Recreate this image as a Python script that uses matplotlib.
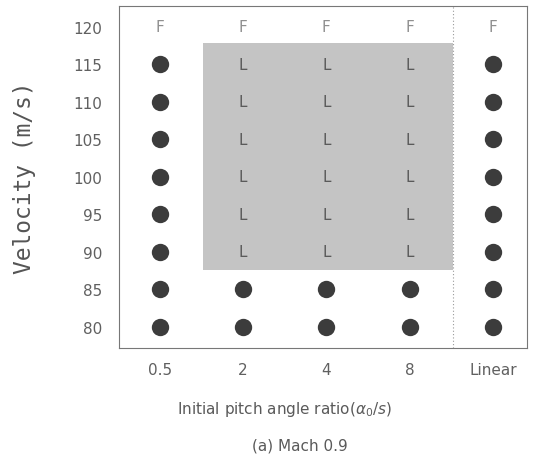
import numpy as np
import matplotlib.pyplot as plt

ratio_labels = ['0.5', '2', '4', '8', 'Linear']
velocities = [80, 85, 90, 95, 100, 105, 110, 115, 120]
# state per column (bottom to top): D = dot (stable), L = LCO, F = flutter
states = [
    ['D', 'D', 'D', 'D', 'D', 'D', 'D', 'D', 'F'],
    ['D', 'D', 'L', 'L', 'L', 'L', 'L', 'L', 'F'],
    ['D', 'D', 'L', 'L', 'L', 'L', 'L', 'L', 'F'],
    ['D', 'D', 'L', 'L', 'L', 'L', 'L', 'L', 'F'],
    ['D', 'D', 'D', 'D', 'D', 'D', 'D', 'D', 'F'],
]
shade_x = [0.52, 3.52]
shade_v = [87.6, 117.9]

fig = plt.figure(figsize=(5.39, 4.60), dpi=100)
ax = fig.add_axes([119/539, 1 - 349/460, 408/539, 342/460])

ax.fill_between(shade_x, shade_v[0], shade_v[1], color='#c4c4c4', lw=0, zorder=0)
ax.axvline(3.52, color='#999999', ls=(0, (1, 2)), lw=0.8)

for i, col in enumerate(states):
    for v, s in zip(velocities, col):
        if s == 'D':
            ax.plot(i, v, 'o', color='#3c3c3c', ms=12.5, mew=0)
        elif s == 'L':
            ax.text(i, v, 'L', ha='center', va='center', fontsize=11, color='#5a5a5a')
        else:
            ax.text(i, v, 'F', ha='center', va='center', fontsize=11, color='#8f8f8f')

ax.set_xlim(-0.49, 4.41)
ax.set_ylim(77.2, 122.8)
ax.set_xticks(range(len(ratio_labels)))
ax.set_xticklabels(ratio_labels)
ax.set_yticks(velocities)
ax.tick_params(length=0, labelsize=11, labelcolor='#606060')
ax.tick_params(axis='x', pad=10)
ax.tick_params(axis='y', pad=12)
for sp in ax.spines.values():
    sp.set_color('#777777')
    sp.set_linewidth(0.8)

ax.set_ylabel('Velocity (m/s)', family='DejaVu Sans Mono', fontsize=16.5,
              color='#555555')
ax.yaxis.set_label_coords((36 - 119) / 408, 0.5)
fig.text(285/539, 1 - 410/460, r'Initial pitch angle ratio($\alpha_0$/$s$)',
         ha='center', va='center', fontsize=11, color='#5a5a5a')
fig.text(300/539, 1 - 446/460, '(a) Mach 0.9', ha='center', va='center',
         fontsize=11, color='#5a5a5a')

fig.savefig('out.png', dpi=100)
